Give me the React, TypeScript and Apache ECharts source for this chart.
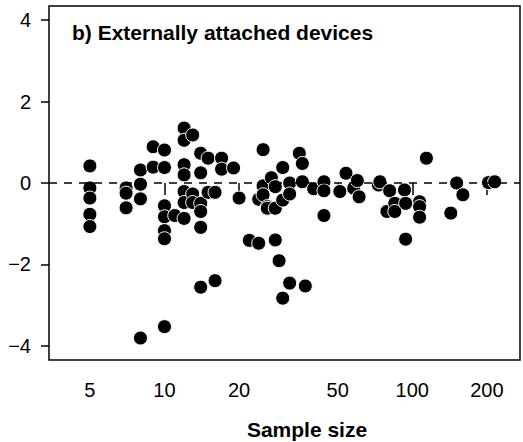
import React, { useEffect, useRef } from "react";
import * as echarts from "echarts";

const sampleSizes = [
  5, 5, 5, 5, 5,
  7, 7, 7,
  8, 8, 8, 8,
  9, 9,
  10, 10, 10, 10, 10, 10, 10,
  11,
  12, 12, 12, 12, 12, 12, 12,
  13, 13, 13,
  14, 14, 14, 14, 14, 14,
  15, 15,
  16, 16,
  17, 17,
  19,
  20,
  22,
  24, 24,
  25, 25, 25,
  26, 26,
  27,
  28, 28, 28,
  29,
  30, 30, 30,
  32, 32, 32,
  35,
  36, 36,
  37,
  40,
  44, 44, 44,
  51,
  54,
  58,
  60,
  61,
  73,
  74,
  79,
  81,
  85, 85,
  93,
  94, 94,
  107, 107, 107,
  114,
  143,
  151,
  160,
  203,
  215,
];

const effects = [
  0.42, -0.12, -0.37, -0.77, -1.07,
  -0.12, -0.25, -0.61,
  0.32, -0.03, -0.39, -3.81,
  0.89, 0.39,
  0.81, 0.38, -0.56, -0.83, -1.17, -1.37, -3.53,
  -0.8,
  1.35, 1.05, 0.45, 0.2, -0.21, -0.48, -0.87,
  1.18, -0.27, -0.48,
  0.73, 0.25, -0.5, -0.7, -1.09, -2.56,
  0.61, -0.23,
  -0.23, -2.4,
  0.61, 0.34,
  0.37,
  -0.37,
  -1.41,
  -1.48, -0.4,
  0.82, -0.07, -0.29,
  -0.58, -0.62,
  0.13,
  -0.09, -0.62, -1.4,
  -1.91,
  -0.42, 0.38, -2.83,
  0.0, -0.27, -2.46,
  0.73,
  0.48, 0.03,
  -2.53,
  -0.14,
  0.03, -0.19, -0.8,
  -0.21,
  0.24,
  -0.13,
  0.06,
  -0.34,
  -0.05,
  0.03,
  -0.7,
  -0.19,
  -0.5, -0.7,
  -0.17,
  -0.5, -1.38,
  -0.46, -0.58, -0.84,
  0.61,
  -0.74,
  0.0,
  -0.29,
  0.01,
  0.03,
];

const xTicks = [5, 10, 20, 50, 100, 200];
const yTicks = [-4, -2, 0, 2, 4];
const titleText = "b) Externally attached devices";
const xName = "Sample size";

const FONT = "'Liberation Sans', Arial, Helvetica, sans-serif";

export default function App() {
  const ref = useRef<HTMLDivElement>(null);

  useEffect(() => {
    if (!ref.current) return;
    const chart = echarts.init(ref.current, undefined, { renderer: "svg" });
    const points = sampleSizes.map((n, i) => [n, effects[i]]);
    chart.setOption({
      animation: false,
      backgroundColor: "#ffffff",
      grid: {
        left: 49,
        right: 3,
        top: 6,
        bottom: 82,
        show: true,
        borderColor: "#000",
        borderWidth: 1.5,
        backgroundColor: "transparent",
      },
      xAxis: {
        type: "log",
        logBase: 10,
        min: 3.42,
        max: 272,
        axisLine: { show: false },
        splitLine: { show: false },
        axisTick: {
          show: true,
          length: 12,
          customValues: xTicks,
          lineStyle: { color: "#000", width: 1.5 },
        },
        axisLabel: {
          show: true,
          customValues: xTicks,
          margin: 20,
          fontFamily: FONT,
          fontSize: 20,
          color: "#000",
          formatter: (v: number) => String(Math.round(v)),
        },
      },
      yAxis: {
        type: "value",
        min: -4.35,
        max: 4.35,
        axisLine: { show: false },
        splitLine: { show: false },
        axisTick: {
          show: true,
          length: 8,
          customValues: yTicks,
          lineStyle: { color: "#000", width: 1.5 },
        },
        axisLabel: {
          show: true,
          customValues: yTicks,
          margin: 18,
          fontFamily: FONT,
          fontSize: 20,
          color: "#000",
          formatter: (v: number) => (v < 0 ? "\u2212" + Math.abs(v) : String(v)),
        },
      },
      graphic: [
        {
          type: "text",
          left: 72,
          top: 22,
          style: {
            text: titleText,
            font: `bold 21px ${FONT}`,
            fill: "#000",
          },
          z: 10,
        },
        {
          type: "text",
          x: 307,
          y: 429,
          style: {
            text: xName,
            font: `bold 21px ${FONT}`,
            fill: "#000",
            textAlign: "center",
            textVerticalAlign: "middle",
          },
          z: 10,
        },
      ],
      series: [
        {
          type: "line",
          data: [],
          z: 1,
          silent: true,
          markLine: {
            silent: true,
            symbol: "none",
            label: { show: false },
            lineStyle: { color: "#000", width: 1.5, type: [8, 7] },
            data: [{ yAxis: 0 }],
          },
        },
        {
          type: "scatter",
          data: points,
          z: 2,
          symbol: "circle",
          symbolSize: 14,
          itemStyle: { color: "#000", borderColor: "#fff", borderWidth: 1, opacity: 1 },
        },
      ],
    });
    return () => chart.dispose();
  }, []);

  return <div ref={ref} style={{ width: 523, height: 442, position: "absolute", left: 0, top: 0 }} />;
}
